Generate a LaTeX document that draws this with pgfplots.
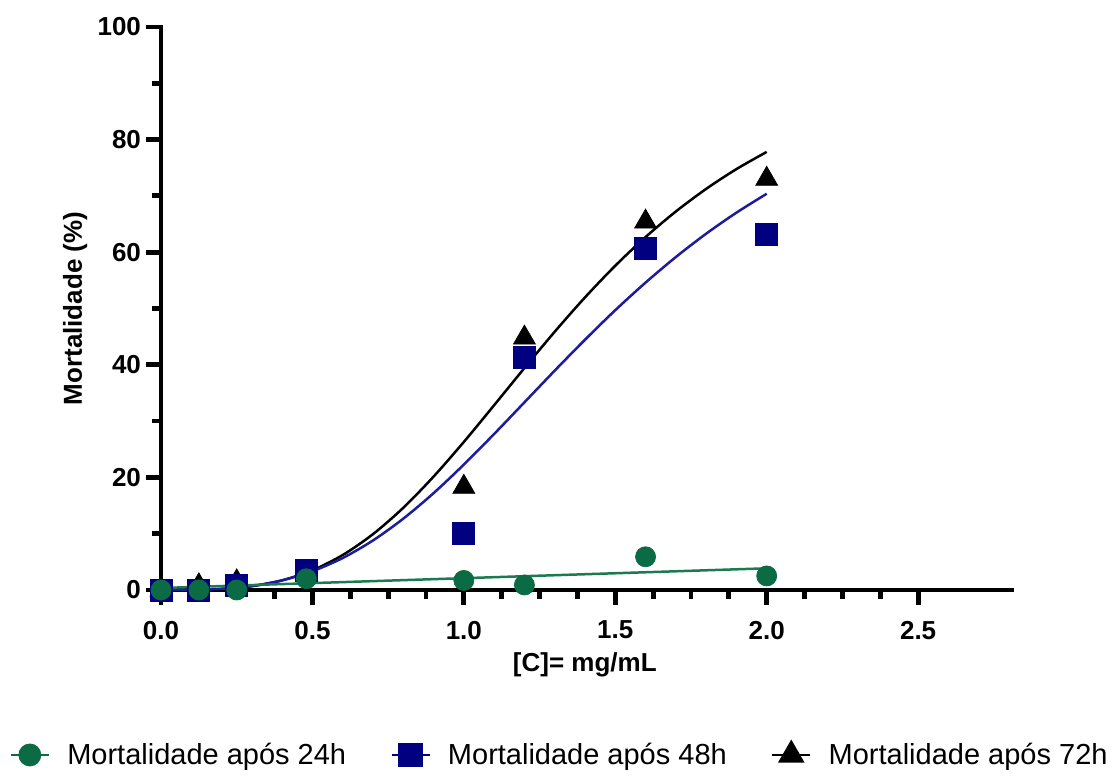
\documentclass[border=0pt]{standalone}
\usepackage{pgfplots}
\pgfplotsset{compat=1.18}
\usepackage{fontspec}
\setmainfont{Liberation Sans}
\definecolor{cgreen}{HTML}{0B6B45}
\definecolor{cgreenline}{HTML}{1B7A50}
\definecolor{cblue}{HTML}{000080}
\definecolor{cblueline}{HTML}{1C1C9C}
\begin{document}
\begin{tikzpicture}
\begin{axis}[
  at={(80.5pt,93pt)}, anchor=south west,
  width=425.5pt, height=281.5pt, scale only axis,
  xmin=0, xmax=2.81, ymin=0, ymax=100,
  axis lines=left,
  axis line style={-, line width=2.4pt, line cap=rect},
  xtick={0,0.5,1,1.5,2,2.5},
  xticklabels={0.0,0.5,1.0,1.5,2.0,2.5},
  minor x tick num=3,
  ytick={0,20,40,60,80,100},
  minor y tick num=1,
  tick align=outside,
  major tick length=7.5pt, minor tick length=4.6pt,
  every tick/.style={line width=2.4pt, black},
  /pgf/number format/assume math mode=true,
  xticklabel style={font=\bfseries\fontsize{13}{15}\selectfont, yshift=-4.5pt},
  yticklabel style={font=\bfseries\fontsize{13}{15}\selectfont, xshift=1pt},
  xlabel={[C]= mg/mL},
  ylabel={Mortalidade (\%)},
  xlabel style={font=\bfseries\fontsize{13}{15}\selectfont, at={(axis description cs:0.498,-0.133)}, anchor=center},
  ylabel style={font=\bfseries\fontsize{13}{15}\selectfont, at={(axis description cs:-0.101,0.5)}, anchor=center},
  legend columns=3,
  legend style={at={(axis description cs:0.473,-0.293)}, anchor=center, draw=none, fill=none,
    font=\fontsize{14.5}{16}\selectfont,
    /tikz/every even column/.append style={column sep=17pt},
    /tikz/every odd column/.append style={column sep=3.5pt},
    nodes={inner xsep=5pt}},
  legend cell align=left,
  legend image code/.code={\draw[mark repeat=2,mark phase=2] plot coordinates {(0pt,0pt) (9.5pt,0pt) (19pt,0pt)};},
  clip=false,
]
\addlegendimage{cgreen, line width=1.4pt, mark=*, mark size=5pt, mark options={solid}}
\addlegendimage{cblue, line width=1.4pt, mark=square*, mark size=5.5pt, mark options={solid}}
\addlegendimage{black, line width=1.4pt, mark=triangle*, mark size=6.3pt, mark options={solid}}
\legend{Mortalidade após 24h, Mortalidade após 48h, Mortalidade após 72h}

% fitted curve 72h
\addplot[black, line width=1.25pt, smooth, no marks] coordinates {
(0,0) (0.1,0.02) (0.2,0.18) (0.3,0.67) (0.4,1.71) (0.5,3.50) (0.6,6.21) (0.7,9.92) (0.8,14.60) (0.9,20.14) (1.0,26.30) (1.1,32.82) (1.2,39.42) (1.3,45.87) (1.4,51.97) (1.5,57.60) (1.6,62.69) (1.7,67.23) (1.8,71.24) (1.9,74.76) (2.0,77.81)};
% fitted curve 48h
\addplot[cblueline, line width=1.25pt, smooth, no marks] coordinates {
(0,0) (0.1,0.03) (0.2,0.21) (0.3,0.72) (0.4,1.72) (0.5,3.34) (0.6,5.68) (0.7,8.80) (0.8,12.67) (0.9,17.20) (1.0,22.28) (1.1,27.71) (1.2,33.33) (1.3,38.96) (1.4,44.45) (1.5,49.70) (1.6,54.60) (1.7,59.14) (1.8,63.28) (1.9,67.02) (2.0,70.38)};
% fitted line 24h
\addplot[cgreenline, line width=1.25pt, no marks] coordinates {(0,0.35) (2.0,3.85)};

% 72h data
\addplot[only marks, mark=triangle*, mark size=6.3pt, black, mark options={fill=black, draw=black}] coordinates {
(0,0) (0.125,0.8) (0.25,1.5) (0.48,3.0) (1.0,18.3) (1.2,44.8) (1.6,65.4) (2.0,73.0)};
% 48h data
\addplot[only marks, mark=square*, mark size=5.5pt, cblue, mark options={fill=cblue, draw=cblue}] coordinates {
(0,0) (0.125,0) (0.25,0.8) (0.48,3.5) (1.0,10.0) (1.2,41.4) (1.6,60.7) (2.0,63.2)};
% 24h data
\addplot[only marks, mark=*, mark size=5pt, cgreen, mark options={fill=cgreen, draw=cgreen}] coordinates {
(0,0) (0.125,0) (0.25,0) (0.48,2.0) (1.0,1.7) (1.2,0.9) (1.6,5.9) (2.0,2.5)};
\end{axis}
\pgfresetboundingbox
\path[use as bounding box] (0,0) rectangle (560pt,388pt);
\end{tikzpicture}
\end{document}
